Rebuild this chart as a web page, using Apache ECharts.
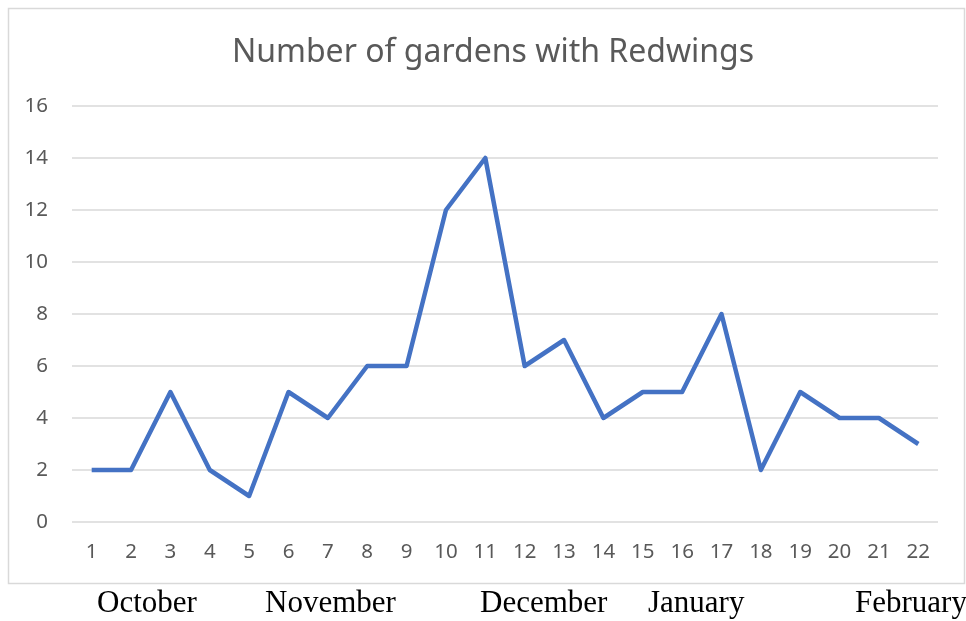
<!DOCTYPE html>
<html><head><meta charset="utf-8">
<script src="https://cdn.jsdelivr.net/npm/echarts@6/dist/echarts.min.js"></script>
<style>html,body{margin:0;padding:0;background:#fff}#c{width:966px;height:621px}</style>
</head><body><div id="c"></div>
<script>
const categories = ['1','2','3','4','5','6','7','8','9','10','11','12','13','14','15','16','17','18','19','20','21','22'];
const gardens = [2,2,5,2,1,5,4,6,6,12,14,6,7,4,5,5,8,2,5,4,4,3];
const months = ['October','November','December','January','February'];
const monthX = [97,265,480,648,855];
const titleText = 'Number of gardens with Redwings';

const chart = echarts.init(document.getElementById('c'));
chart.setOption({
  animation:false,
  title:{text:titleText,left:488,top:32,textAlign:'center',
    textStyle:{fontFamily:'Noto Sans',fontSize:32,fontWeight:'normal',color:'#595959'}},
  grid:{left:72,right:28,top:106,bottom:99},
  xAxis:{type:'category',data:categories,boundaryGap:true,
    axisLine:{show:false},axisTick:{show:false},
    axisLabel:{color:'#595959',fontSize:20.5,fontFamily:'Noto Sans',margin:20}},
  yAxis:{type:'value',min:0,max:16,interval:2,
    axisLabel:{color:'#595959',fontSize:20.5,fontFamily:'Noto Sans',margin:24},
    splitLine:{lineStyle:{color:'#d9d9d9',width:1.5}}},
  series:[{type:'line',data:gardens,symbol:'none',
    lineStyle:{color:'#4472c4',width:4.5,join:'round'}}],
  graphic:[
    {type:'rect',shape:{x:8.5,y:8.5,width:956,height:575},style:{fill:'none',stroke:'#d9d9d9',lineWidth:1.5},z:-1},
    ...months.map((m,i)=>({type:'text',left:monthX[i],top:588,
      style:{text:m,font:'31px "Liberation Serif"',fill:'#000'}}))
  ]
});
</script></body></html>
